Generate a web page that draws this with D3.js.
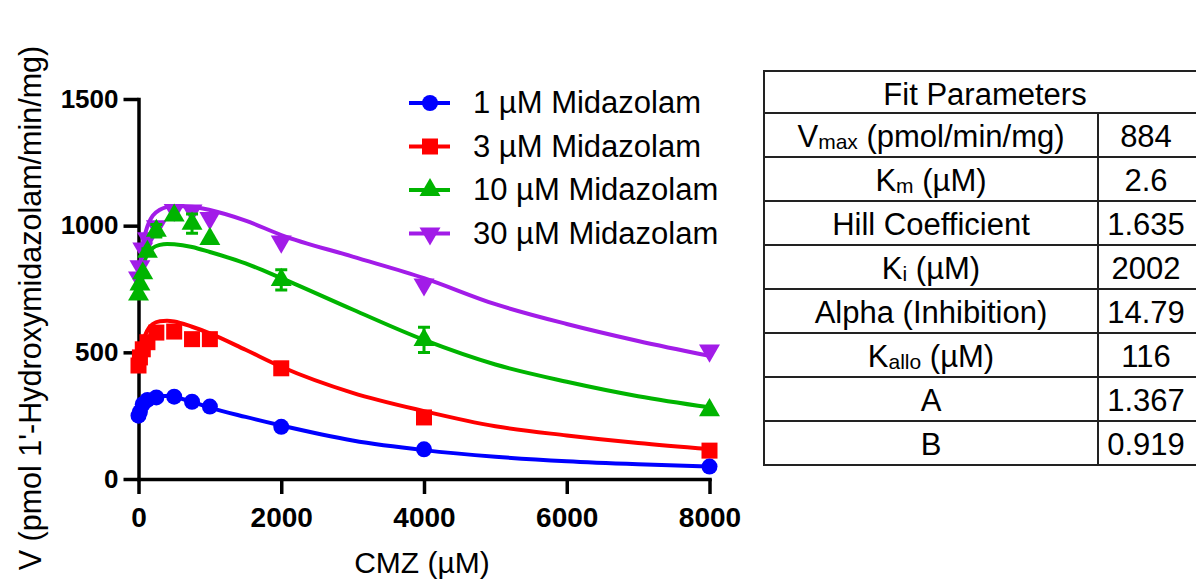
<!DOCTYPE html>
<html>
<head>
<meta charset="utf-8">
<script src="https://cdn.jsdelivr.net/npm/d3@7"></script>
<style>
  body { margin: 0; background: #fff; }
  svg { display: block; font-family: "Liberation Sans", Arial, sans-serif; }
</style>
</head>
<body>
<script>
// measured concentrations (CMZ, µM) and mean rates
const conc = [0, 20, 60, 125, 250, 500, 750, 1000, 2000, 4000, 8000];
const v1 = [250, 265, 295, 312, 322, 325, 305, 286, 206, 117, 49];
const v3 = [448, 480, 512, 540, 578, 582, 552, 552, 437, 243, 112];
const v10 = [728, 768, 812, 897, 980, 1040, 1008, 948, 786, 549, 272];
const v30 = [795, 840, 910, 950, 998, 1062, 1060, 1030, 937, 768, 507];
const err10 = [0, 0, 0, 12, 25, 0, 38, 0, 40, 50, 0];

// fitted curves
const fitX = [0, 25, 50, 100, 150, 200, 300, 400, 500, 750, 1000, 1500, 2000, 3000, 4000, 5000, 6000, 7000, 8000];
const fit1 = [240, 268, 288, 308, 318, 325, 328, 328, 324, 305, 282, 245, 211, 152, 114, 88, 70, 58, 49];
const fit3 = [425, 480, 528, 572, 598, 612, 623, 625, 622, 601, 575, 510, 443, 340, 268, 208, 172, 142, 118];
const fit10 = [710, 772, 822, 872, 898, 912, 924, 928, 927, 916, 896, 851, 793, 669, 549, 452, 384, 327, 283];
const fit30 = [785, 850, 910, 975, 1015, 1040, 1063, 1074, 1078, 1075, 1062, 1020, 963, 878, 793, 690, 612, 545, 486];

const seriesNames = ["1 µM Midazolam", "3 µM Midazolam", "10 µM Midazolam", "30 µM Midazolam"];
const xTicks = [0, 2000, 4000, 6000, 8000];
const yTicks = [0, 500, 1000, 1500];

const paramLabels = [
  ["V", "max", " (pmol/min/mg)"],
  ["K", "m", " (µM)"],
  ["Hill Coefficient", "", ""],
  ["K", "i", " (µM)"],
  ["Alpha (Inhibition)", "", ""],
  ["K", "allo", " (µM)"],
  ["A", "", ""],
  ["B", "", ""]
];
const paramValues = ["884", "2.6", "1.635", "2002", "14.79", "116", "1.367", "0.919"];

const width = 1196, height = 579;
const svg = d3.select("body").append("svg")
  .attr("width", width).attr("height", height);

const x = d3.scaleLinear().domain([0, 8000]).range([138.5, 709.5]);
const y = d3.scaleLinear().domain([0, 1500]).range([479, 99]);

const series = [
  { name: seriesNames[0], color: "#0000ff", shape: "circle", pts: v1, fit: fit1, err: null },
  { name: seriesNames[1], color: "#ff0000", shape: "square", pts: v3, fit: fit3, err: null },
  { name: seriesNames[2], color: "#00b400", shape: "up", pts: v10, fit: fit10, err: err10 },
  { name: seriesNames[3], color: "#a21ce8", shape: "down", pts: v30, fit: fit30, err: null }
];

// axes
const xAxis = svg.append("g").attr("transform", `translate(0,${y(0)})`)
  .call(d3.axisBottom(x).tickValues(xTicks).tickFormat(d3.format("d"))
    .tickSize(15).tickSizeOuter(0).tickPadding(13));
xAxis.selectAll("text").style("font-size", "28px").style("font-weight", "bold").attr("fill", "#000");

const yAxis = svg.append("g").attr("transform", `translate(${x(0)},0)`)
  .call(d3.axisLeft(y).tickValues(yTicks).tickFormat(d3.format("d"))
    .tickSize(15).tickSizeOuter(0).tickPadding(5));
yAxis.selectAll("text").style("font-size", "26px").style("font-weight", "bold").attr("fill", "#000");

svg.selectAll(".domain, .tick line").attr("stroke", "#000").attr("stroke-width", 3.5);
svg.selectAll(".domain").attr("stroke-linecap", "square");

svg.append("text")
  .attr("x", (x(0) + x(8000)) / 2 - 2).attr("y", 573)
  .attr("text-anchor", "middle").style("font-size", "30px")
  .text("CMZ (µM)");

svg.append("text")
  .attr("transform", "translate(41,308) rotate(-90)")
  .attr("text-anchor", "middle").style("font-size", "30.5px")
  .text("V (pmol 1'-Hydroxymidazolam/min/mg)");

// curves
const line = d3.line().x((d, i) => x(fitX[i])).y(d => y(d)).curve(d3.curveMonotoneX);
series.forEach(s => {
  svg.append("path").attr("d", line(s.fit))
    .attr("fill", "none").attr("stroke", s.color).attr("stroke-width", 4);
});

function marker(g, shape, color, cx, cy) {
  if (shape === "circle") {
    g.append("circle").attr("cx", cx).attr("cy", cy).attr("r", 8).attr("fill", color);
  } else if (shape === "square") {
    g.append("rect").attr("x", cx - 8).attr("y", cy - 8).attr("width", 16).attr("height", 16).attr("fill", color);
  } else {
    const sym = d3.symbol().type(d3.symbolTriangle).size(190);
    g.append("path").attr("d", sym())
      .attr("transform", `translate(${cx},${cy})` + (shape === "down" ? " rotate(180)" : ""))
      .attr("fill", color);
  }
}

// points, drawn purple first so green sits on top
[3, 2, 1, 0].forEach(k => {
  const s = series[k];
  const g = svg.append("g");
  if (s.err) {
    s.pts.forEach((v, i) => {
      if (!s.err[i]) return;
      const px = x(conc[i]);
      g.append("path")
        .attr("d", `M${px},${y(v - s.err[i])}V${y(v + s.err[i])}M${px - 6},${y(v + s.err[i])}H${px + 6}M${px - 6},${y(v - s.err[i])}H${px + 6}`)
        .attr("stroke", s.color).attr("stroke-width", 3).attr("fill", "none");
    });
  }
  s.pts.forEach((v, i) => marker(g, s.shape, s.color, x(conc[i]), y(v)));
});

// legend
const legend = svg.append("g");
series.forEach((s, i) => {
  const cy = 103 + i * 43.5;
  legend.append("line").attr("x1", 409).attr("x2", 450).attr("y1", cy).attr("y2", cy)
    .attr("stroke", s.color).attr("stroke-width", 4);
  marker(legend, s.shape, s.color, 430, cy);
  legend.append("text").attr("x", 473).attr("y", cy + 10)
    .style("font-size", "31px").text(s.name);
});

// parameter table
const tx0 = 764, tx1 = 1098, tx2 = 1198, ty0 = 71, headH = 42, rowH = 44;
const tbl = svg.append("g");
const rowsBottom = ty0 + headH + rowH * paramLabels.length;
tbl.append("rect").attr("x", tx0).attr("y", ty0).attr("width", tx2 - tx0).attr("height", rowsBottom - ty0)
  .attr("fill", "none").attr("stroke", "#222").attr("stroke-width", 2);
tbl.append("line").attr("x1", tx1).attr("x2", tx1).attr("y1", ty0 + headH).attr("y2", rowsBottom)
  .attr("stroke", "#222").attr("stroke-width", 2);
tbl.append("text").attr("x", (tx0 + tx2) / 2 + 4).attr("y", ty0 + 34)
  .attr("text-anchor", "middle").style("font-size", "31px").text("Fit Parameters");

paramLabels.forEach((lab, i) => {
  const top = ty0 + headH + i * rowH;
  tbl.append("line").attr("x1", tx0).attr("x2", tx2).attr("y1", top).attr("y2", top)
    .attr("stroke", "#222").attr("stroke-width", 2);
  const base = top + rowH / 2 + 12;
  const t = tbl.append("text").attr("x", (tx0 + tx1) / 2).attr("y", base)
    .attr("text-anchor", "middle").style("font-size", "31px");
  t.append("tspan").text(lab[0]);
  if (lab[1]) t.append("tspan").style("font-size", "21px").attr("dy", 2).text(lab[1]);
  if (lab[2]) t.append("tspan").attr("dy", lab[1] ? -2 : 0).text(lab[2]);
  tbl.append("text").attr("x", (tx1 + tx2) / 2 - 2).attr("y", base)
    .attr("text-anchor", "middle").style("font-size", "31px").text(paramValues[i]);
});
</script>
</body>
</html>
